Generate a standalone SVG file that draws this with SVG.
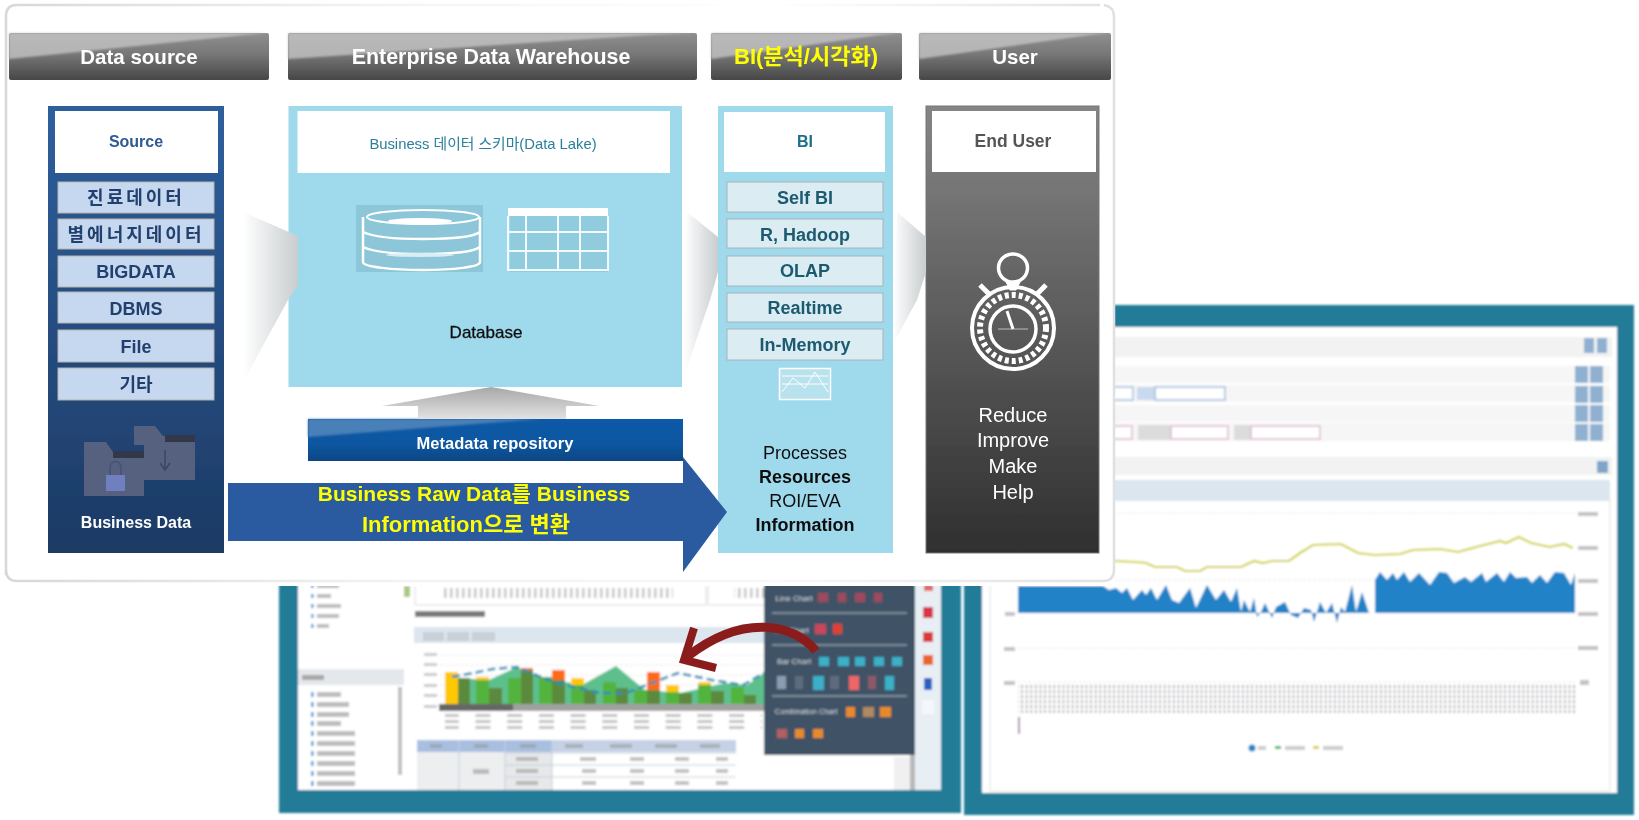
<svg xmlns="http://www.w3.org/2000/svg" width="1639" height="820" viewBox="0 0 1639 820">
<style>
text{font-family:"Liberation Sans","Noto Sans CJK KR",sans-serif;text-anchor:middle}
.hd{fill:url(#hdG)}.gl{fill:#c4c4c4;opacity:.8}
.ht{font-size:20.5px;font-weight:700;fill:#fff}
.si{fill:#c5d8f0;stroke:#b7b3a8;stroke-width:1}
.st{font-size:18px;font-weight:700;fill:#24406e}
.ko{letter-spacing:3px}
.bi{fill:#dbecf3;stroke:#aab4b8;stroke-width:1}
.bt{font-size:18px;font-weight:700;fill:#1d5a70}
.ww{fill:#fff}
.teal{fill:#217c98}
.m{fill:#9a9a9a}
.ic{fill:none;stroke:#fff;stroke-width:2.5}
.btn{fill:#8fb0d0}
.strip{fill:#f6f6f6}
.tr{fill:#3f9ae0}
.trt{fill:#bdbdbd}
.grid{stroke:#e8e8e8;stroke-width:1;stroke-dasharray:3 2}
</style>
<defs>
<linearGradient id="hdG" x1="0" y1="0" x2="0" y2="1"><stop offset="0" stop-color="#8f8f8f"/><stop offset=".45" stop-color="#777"/><stop offset="1" stop-color="#474747"/></linearGradient>
<linearGradient id="srcG" x1="0" y1="0" x2="0" y2="1"><stop offset="0" stop-color="#2f5f9d"/><stop offset="1" stop-color="#1c3a64"/></linearGradient>
<linearGradient id="usrG" x1="0" y1="0" x2="0" y2="1"><stop offset="0" stop-color="#858585"/><stop offset="1" stop-color="#2f2f2f"/></linearGradient>
<linearGradient id="mdG" x1="0" y1="0" x2="0" y2="1"><stop offset="0" stop-color="#0e5aa7"/><stop offset=".6" stop-color="#0d56a0"/><stop offset="1" stop-color="#0a4684"/></linearGradient>
<linearGradient id="grA" x1="0" y1="0" x2="1" y2="0"><stop offset="0" stop-color="#fff"/><stop offset="1" stop-color="#c8cdcf"/></linearGradient>
<linearGradient id="grU" x1="0" y1="0" x2="0" y2="1"><stop offset="0" stop-color="#a8a8a8"/><stop offset="1" stop-color="#e2e2e2"/></linearGradient>
<linearGradient id="edgeT" x1="0" y1="0" x2="1" y2="0"><stop offset="0" stop-color="#d8d8d8"/><stop offset=".35" stop-color="#f4f4f4"/><stop offset=".7" stop-color="#fff"/><stop offset="1" stop-color="#e4e4e4"/></linearGradient>
<linearGradient id="edgeB" x1="0" y1="0" x2="1" y2="0"><stop offset="0" stop-color="#d8d8d8"/><stop offset=".35" stop-color="#f2f2f2"/><stop offset=".7" stop-color="#f8f8f8"/><stop offset="1" stop-color="#e0e0e0"/></linearGradient>
<pattern id="xl" width="4.6" height="5" patternUnits="userSpaceOnUse"><rect width="1.6" height="3.4" fill="#a8a4ac"/></pattern>
<pattern id="xs" width="31.7" height="6" patternUnits="userSpaceOnUse"><rect width="15" height="3" fill="#c4c4c4"/></pattern>
<pattern id="tk" width="6" height="10" patternUnits="userSpaceOnUse"><rect width="2.5" height="10" fill="#c6c6c6"/></pattern>
<filter id="soft" filterUnits="userSpaceOnUse" x="0" y="0" width="1639" height="820"><feGaussianBlur stdDeviation="0.75"/></filter>
<filter id="soft2" filterUnits="userSpaceOnUse" x="0" y="0" width="1639" height="820"><feGaussianBlur stdDeviation="0.9"/></filter>
</defs>
<rect width="1639" height="820" fill="#fff"/>
<g filter="url(#soft)">
<g id="window-right" filter="url(#soft2)">
<rect class="teal" x="964" y="305" width="670" height="510"/>
<rect class="ww" x="982" y="327" width="635" height="466"/>
<rect x="990" y="500" width="620" height="291" fill="none" stroke="#e2e2e2"/>
<rect x="1000" y="337" width="612" height="20" fill="#f2f2f2"/>
<rect class="btn" x="1584" y="338" width="10" height="15"/><rect class="btn" x="1597" y="338" width="10" height="15"/>
<rect class="strip" x="1000" y="366" width="610" height="17"/><rect class="strip" x="1000" y="385" width="610" height="17"/><rect class="strip" x="1000" y="405" width="610" height="17"/><rect class="strip" x="1000" y="423" width="610" height="18"/>
<g class="btn"><rect x="1575" y="366" width="13" height="17"/><rect x="1590" y="366" width="13" height="17"/><rect x="1575" y="386" width="13" height="17"/><rect x="1590" y="386" width="13" height="17"/><rect x="1575" y="405" width="13" height="17"/><rect x="1590" y="405" width="13" height="17"/><rect x="1575" y="424" width="13" height="17"/><rect x="1590" y="424" width="13" height="17"/></g>
<rect x="1100" y="387" width="33" height="13" fill="#fff" stroke="#9dbbe0" stroke-width="1.5"/>
<rect x="1137" y="387" width="18" height="13" fill="#c9d9ee"/><rect x="1155" y="387" width="70" height="13" fill="#fff" stroke="#9dbbe0" stroke-width="1.5"/>
<rect x="1100" y="426" width="32" height="13" fill="#fff" stroke="#dcb8d0" stroke-width="1.5"/>
<rect x="1138" y="425" width="33" height="15" fill="#dcdcdc"/><rect x="1171" y="426" width="57" height="13" fill="#fff" stroke="#dcb8d0" stroke-width="1.5"/>
<rect x="1234" y="425" width="17" height="15" fill="#dcdcdc"/><rect x="1251" y="426" width="69" height="13" fill="#fff" stroke="#dcb8d0" stroke-width="1.5"/>
<rect x="1000" y="457" width="612" height="18" fill="#f2f2f2"/><rect x="1597" y="461" width="11" height="12" fill="#7ea4c8"/>
<rect x="1000" y="480" width="610" height="21" fill="#dce6ee"/>
<g class="grid"><path d="M1018 513H1575M1018 580H1575M1018 648H1575M1018 682H1575"/></g>
<g class="m" opacity=".6"><rect x="1578" y="512" width="20" height="4"/><rect x="1578" y="546" width="20" height="4"/><rect x="1578" y="579" width="20" height="4"/><rect x="1578" y="612" width="20" height="4"/><rect x="1578" y="646" width="20" height="4"/><rect x="1580" y="680" width="9" height="5"/><rect x="1005" y="612" width="10" height="4"/><rect x="1004" y="647" width="11" height="4"/><rect x="1004" y="681" width="11" height="4"/></g>
<path fill="#2282c8" d="M1018 586H1103L1109 590 1116 588 1122 593 1127 588 1133 600 1142 590 1146 595 1151 588 1157 600 1166 585 1172 600 1179 603 1190 588 1196 608 1207 585 1216 600 1224 590 1231 602 1237 588 1241 612 1244 600 1250 612 1254 598 1257 617 1261 612 1265 603 1272 618 1276 607 1285 602 1291 615 1298 618 1304 608 1311 610 1314 622 1320 602 1326 613 1332 603 1337 623 1341 607 1345 612 1352 585 1356 612 1362 592 1369 613H1018Z"/>
<path fill="#2282c8" d="M1375 613V580L1380 572 1387 580 1393 573 1397 580 1404 572 1410 582 1419 573 1430 585 1439 572 1447 573 1454 583 1465 577 1471 582 1482 573 1486 582 1497 573 1504 582 1510 572 1516 578 1527 577 1532 583 1540 575 1547 583 1555 572 1564 573 1571 585 1575 573V613Z"/>
<path fill="none" stroke="#d2d23c" stroke-width="2.200" d="M1114 561L1136 562 1146 563 1155 567 1177 567 1185 571 1200 571 1207 567 1241 567 1254 561 1263 563 1272 561 1289 561 1300 553 1313 545 1341 544 1358 553 1375 555 1400 554 1413 550 1440 549 1458 552 1480 546 1500 541 1506 543 1519 537 1531 543 1550 547 1564 544 1573 548"/>
<rect x="1018" y="685" width="557" height="28" fill="url(#xl)"/>
<rect x="1018" y="717" width="2" height="17" fill="#a98ab0"/>
<circle cx="1252" cy="748" r="3.500" fill="#2282c8"/><rect class="m" opacity=".5" x="1258" y="746" width="8" height="4"/>
<rect x="1275" y="746" width="6" height="3" fill="#2eb872"/><rect class="m" opacity=".5" x="1285" y="746" width="20" height="4"/>
<rect x="1313" y="746" width="6" height="3" fill="#e8c82c"/><rect class="m" opacity=".5" x="1323" y="746" width="20" height="4"/>
</g>
<g id="window-left" filter="url(#soft2)">
<rect class="teal" x="279" y="560" width="682" height="253"/>
<rect class="ww" x="298" y="560" width="643" height="230"/>
<g class="tr"><rect x="311" y="584" width="2.500" height="4"/><rect x="311" y="594" width="2.500" height="4"/><rect x="311" y="604" width="2.500" height="4"/><rect x="311" y="614" width="2.500" height="4"/><rect x="311" y="624" width="2.500" height="4"/>
<rect x="311" y="692" width="2.500" height="5"/><rect x="311" y="702" width="2.500" height="5"/><rect x="311" y="712" width="2.500" height="5"/><rect x="311" y="721" width="2.500" height="5"/><rect x="311" y="731" width="2.500" height="5"/><rect x="311" y="741" width="2.500" height="5"/><rect x="311" y="751" width="2.500" height="5"/><rect x="311" y="761" width="2.500" height="5"/><rect x="311" y="771" width="2.500" height="5"/><rect x="311" y="781" width="2.500" height="5"/></g>
<g class="trt"><rect x="317" y="584" width="22" height="4"/><rect x="317" y="594" width="14" height="4"/><rect x="317" y="604" width="24" height="4"/><rect x="317" y="614" width="22" height="4"/><rect x="317" y="624" width="12" height="4"/>
<rect x="317" y="692" width="24" height="5"/><rect x="317" y="702" width="32" height="5"/><rect x="317" y="712" width="32" height="5"/><rect x="317" y="721" width="24" height="5"/><rect x="317" y="731" width="38" height="5"/><rect x="317" y="741" width="38" height="5"/><rect x="317" y="751" width="38" height="5"/><rect x="317" y="761" width="38" height="5"/><rect x="317" y="771" width="38" height="5"/><rect x="317" y="781" width="38" height="5"/></g>
<rect x="404" y="586" width="6" height="11" fill="#a9c97f"/>
<rect x="298" y="669" width="106" height="16" fill="#e4e8ec"/><rect x="302" y="675" width="22" height="5" fill="#a8a8a8"/>
<rect x="398" y="687" width="4" height="88" fill="#c0c0c0"/>
<path d="M415 586V605H706V586M708 586V605H764" fill="none" stroke="#dcdcdc"/>
<rect x="441" y="588" width="232" height="10" fill="url(#tk)"/><rect x="734" y="588" width="30" height="10" fill="url(#tk)"/>
<rect x="415" y="611" width="70" height="6" fill="#7a7a7a"/>
<rect x="414" y="627" width="350" height="16" fill="#dce6ee"/>
<rect x="423" y="632" width="21" height="9" fill="#c9d0d7"/><rect x="447" y="632" width="22" height="9" fill="#c9d0d7"/><rect x="472" y="632" width="23" height="9" fill="#c9d0d7"/>
<g class="grid"><path d="M440 655H764M440 665H764M440 675H764M440 685H764M440 696H764"/></g>
<g class="m" opacity=".5"><rect x="424" y="653" width="13" height="3"/><rect x="424" y="663" width="13" height="3"/><rect x="424" y="673" width="13" height="3"/><rect x="424" y="684" width="13" height="3"/><rect x="424" y="694" width="13" height="3"/><rect x="424" y="705" width="13" height="3"/></g>
<path fill="#5dc08c" d="M445 704L458 678 489 680 517 667 539 677 582 685 616 666 645 690 680 693 725 683 747 685 764 673V704Z"/>
<g fill="#ffc800"><rect x="445" y="672" width="13" height="32"/><rect x="476" y="677" width="13" height="10"/><rect x="571" y="678" width="13" height="10"/><rect x="666" y="685" width="13" height="10"/><rect x="698" y="682" width="13" height="6"/></g>
<g fill="#ff6a13"><rect x="521" y="668" width="12" height="6"/><rect x="552" y="670" width="13" height="12"/><rect x="647" y="672" width="13" height="20"/></g>
<g fill="#52b43c"><rect x="476" y="680" width="13" height="24"/><rect x="508" y="678" width="13" height="26"/><rect x="539" y="677" width="13" height="27"/><rect x="571" y="685" width="13" height="19"/><rect x="603" y="682" width="13" height="22"/><rect x="634" y="690" width="13" height="14"/><rect x="666" y="692" width="13" height="12"/><rect x="698" y="685" width="13" height="19"/><rect x="731" y="687" width="13" height="17"/></g>
<g fill="#5c8a3c"><rect x="458" y="678" width="12" height="26"/><rect x="489" y="688" width="13" height="16"/><rect x="521" y="670" width="12" height="34"/><rect x="552" y="680" width="13" height="24"/><rect x="584" y="690" width="12" height="14"/><rect x="616" y="688" width="12" height="16"/><rect x="647" y="690" width="13" height="14"/><rect x="679" y="693" width="13" height="11"/><rect x="711" y="691" width="13" height="13"/><rect x="744" y="695" width="12" height="9"/></g>
<path fill="none" stroke="#2b8fb5" stroke-width="2.500" stroke-dasharray="8 4" d="M452 677L493 669 517 667 548 680 574 687 600 693 626 693 652 683 678 673 712 680 743 685 764 673"/>
<rect x="439" y="704" width="325" height="7" fill="#a0a0a0"/><rect x="439" y="704" width="74" height="7" fill="#666"/>
<rect x="445" y="714" width="317" height="16" fill="url(#xs)"/>
<rect x="417" y="740" width="135" height="12" fill="#a9bfe0"/><rect x="552" y="740" width="184" height="12" fill="#c5d2e6"/>
<rect x="417" y="752" width="135" height="38" fill="#eceef0"/><rect x="505" y="752" width="47" height="38" fill="#e6e8ea"/>
<path d="M459 740V790M505 740V790M552 740V790M505 765H736M505 777H736M505 753H736" stroke="#c6d0dc" fill="none"/>
<g class="m" opacity=".6"><rect x="430" y="744" width="12" height="4"/><rect x="474" y="744" width="14" height="4"/><rect x="520" y="744" width="16" height="4"/><rect x="565" y="744" width="18" height="4"/><rect x="610" y="744" width="22" height="4"/><rect x="655" y="744" width="22" height="4"/><rect x="700" y="744" width="20" height="4"/><rect x="473" y="769" width="16" height="5"/><rect x="516" y="757" width="22" height="4"/><rect x="516" y="769" width="22" height="4"/><rect x="516" y="781" width="22" height="4"/><rect x="580" y="757" width="16" height="4"/><rect x="630" y="757" width="14" height="4"/><rect x="675" y="757" width="14" height="4"/><rect x="716" y="757" width="12" height="4"/><rect x="582" y="769" width="14" height="4"/><rect x="630" y="769" width="14" height="4"/><rect x="675" y="769" width="14" height="4"/><rect x="716" y="769" width="12" height="4"/><rect x="582" y="781" width="14" height="4"/><rect x="630" y="781" width="14" height="4"/><rect x="675" y="781" width="14" height="4"/><rect x="716" y="781" width="12" height="4"/></g>
<rect x="894" y="757" width="18" height="33" fill="#f0f0f0"/><rect x="910" y="755" width="5" height="35" fill="#b8b8b8"/>
<rect x="915" y="560" width="26" height="230" fill="#e7eff5"/>
<g id="icon-strip"><rect x="924" y="585" width="9" height="6" fill="#e46a6a"/><path d="M923 607h10v11h-10z" fill="#d8344a"/><path d="M923 632h10v10h-10z" fill="#d93a3a"/><path d="M923 655h10v10h-10z" fill="#e8662a"/><path d="M924 678h8v12h-8z" fill="#2a62c0"/><path d="M922 700h12v14h-12z" fill="#f4f8fb"/></g>
<rect x="764" y="560" width="151" height="195" fill="#3f5266"/>
<path d="M772 613H907M772 645H907M772 696H907" stroke="#7a8a98" stroke-width="2"/>
<g fill="#d8dde2" font-size="8"><text x="794" y="601">Line Chart</text><text x="792" y="633">Pie Chart</text><text x="794" y="664">Bar Chart</text><text x="806" y="714" font-size="7.500">Combination Chart</text></g>
<g fill="#c9475a"><rect x="818" y="593" width="10" height="9" opacity=".7"/><rect x="838" y="593" width="8" height="9" opacity=".7"/><rect x="855" y="593" width="10" height="9" opacity=".7"/><rect x="874" y="593" width="8" height="9" opacity=".7"/><rect x="815" y="624" width="11" height="10"/><rect x="833" y="624" width="9" height="10" fill="#e04030"/></g>
<g fill="#3ab0c8"><rect x="819" y="657" width="10" height="9"/><rect x="838" y="657" width="11" height="9"/><rect x="855" y="657" width="10" height="9"/><rect x="874" y="657" width="10" height="9"/><rect x="892" y="657" width="10" height="9"/><rect x="777" y="676" width="9" height="13" fill="#8c9cb0"/><rect x="795" y="676" width="8" height="13" fill="#5d6c7c"/><rect x="813" y="676" width="11" height="14"/><rect x="830" y="676" width="9" height="13" fill="#5d6c7c"/><rect x="849" y="676" width="10" height="14" fill="#e66"/><rect x="868" y="676" width="8" height="13" fill="#8a5a68"/><rect x="885" y="676" width="9" height="14"/></g>
<g fill="#e88a2a"><rect x="846" y="707" width="9" height="10"/><rect x="863" y="707" width="11" height="10" fill="#b08a60"/><rect x="880" y="707" width="11" height="10"/><rect x="777" y="729" width="10" height="9" fill="#b06060"/><rect x="795" y="729" width="9" height="9"/><rect x="813" y="729" width="10" height="9"/></g>
</g>
<g id="card">
<path d="M0 0H1115V586H0Z" fill="#fff"/>
<path d="M6 575V16Q6 5 17 5H1100" fill="none" stroke="url(#edgeT)" stroke-width="2.500"/>
<path d="M6 570Q6 581 17 581H1103Q1114 581 1114 570V16Q1114 7 1104 5" fill="none" stroke="url(#edgeB)" stroke-width="2.500"/>
</g>
<g id="headers">
<g id="header-data-source"><rect class="hd" x="9" y="33" width="260" height="47" rx="2"/><polygon class="gl" filter="url(#soft2)" points="9,33 269,33 245,35 9,59"/><text class="ht" x="139" y="64">Data source</text></g>
<g id="header-edw"><rect class="hd" x="288" y="33" width="409" height="47" rx="2"/><polygon class="gl" filter="url(#soft2)" points="288,33 697,33 650,35 288,59"/><text class="ht" x="491" y="64" font-size="21.400" style="font-size:21.4px">Enterprise Data Warehouse</text></g>
<g id="header-bi"><rect class="hd" x="711" y="33" width="191" height="47" rx="2"/><polygon class="gl" filter="url(#soft2)" points="711,33 902,33 880,35 711,59"/><text class="ht" x="806" y="64" style="fill:#ff0;font-size:22px">BI(분석/시각화)</text></g>
<g id="header-user"><rect class="hd" x="919" y="33" width="192" height="47" rx="2"/><polygon class="gl" filter="url(#soft2)" points="919,33 1111,33 1090,35 919,59"/><text class="ht" x="1015" y="64">User</text></g>
</g>
<g id="node-source">
<rect x="48" y="106" width="176" height="447" fill="url(#srcG)"/>
<rect class="ww" x="55" y="111" width="163" height="62"/>
<text x="136" y="147" font-size="16" font-weight="700" fill="#2d5a95">Source</text>
<rect class="si" x="58" y="182" width="156" height="31"/><text class="st ko" x="136" y="204">진료데이터</text>
<rect class="si" x="58" y="219" width="156" height="30"/><text class="st ko" x="136" y="241">별에너지데이터</text>
<rect class="si" x="58" y="256" width="156" height="31"/><text class="st" x="136" y="278">BIGDATA</text>
<rect class="si" x="58" y="292" width="156" height="31"/><text class="st" x="136" y="315">DBMS</text>
<rect class="si" x="58" y="330" width="156" height="32"/><text class="st" x="136" y="353">File</text>
<rect class="si" x="58" y="368" width="156" height="32"/><text class="st" x="136" y="391">기타</text>
<path d="M134 426H155L163 436H195V480H144V445H134Z" fill="#56607f"/>
<path d="M84 442H106L113 452H144V496H84Z" fill="#56607f"/>
<rect x="165" y="435" width="30" height="7" fill="#33384a"/><rect x="113" y="451" width="31" height="7" fill="#33384a"/>
<path d="M165 450V470M160 463L165 470 170 463" stroke="#3c4560" stroke-width="1.500" fill="none"/>
<rect x="106" y="475" width="19" height="16" fill="#6f7fc0"/><path d="M110 475V467a5 5 0 0 1 11 0V475" fill="none" stroke="#4a5478" stroke-width="2"/>
<text x="136" y="528" font-size="16" font-weight="700" fill="#fff">Business Data</text>
</g>
<g id="node-edw">
<rect x="288.500" y="106" width="393.500" height="281" fill="#9fd9ec"/>
<rect class="ww" x="297.500" y="111" width="372.500" height="62"/>
<text x="483" y="149" font-size="14.800" fill="#2a7f9b">Business 데이터 스키마(Data Lake)</text>
<rect x="356" y="205" width="127" height="67" fill="#8cc6d8"/>
<g class="ic"><ellipse cx="423" cy="217" rx="56" ry="7" stroke-width="2"/><path d="M363 217V262c0 5 30 8 60 8s57-3 57-8V217"/><path d="M363 232c10 5 30 7 60 7s50-2 57-7M363 247c10 5 30 7 60 7s50-2 57-7"/></g>
<ellipse cx="420" cy="221" rx="32" ry="3" fill="#fff"/><ellipse cx="420" cy="255" rx="34" ry="2" fill="#d8eef4"/>
<rect x="508" y="208" width="100" height="8" fill="#fff"/>
<rect x="510" y="216" width="98" height="56" fill="#8cc6d8" opacity=".7"/>
<path d="M508 216V270H608V216M508 232H608M508 251H608M508 270H608M526 216V270M558 216V270M580 216V270" fill="none" stroke="#f2fafd" stroke-width="2"/>
<text x="486" y="338" font-size="17" fill="#111" stroke="#111" stroke-width=".3">Database</text>
</g>
<g id="node-metadata">
<rect x="308" y="419" width="375" height="42" fill="url(#mdG)"/>
<polygon points="308,419 540,419 308,437" fill="#4a80b8" filter="url(#soft2)"/>
<text x="495" y="449" font-size="16.500" font-weight="700" fill="#fff">Metadata repository</text>
</g>
<g id="node-bi">
<rect x="718" y="106" width="175" height="447" fill="#9fd9ec"/>
<rect class="ww" x="724" y="112" width="161" height="60"/>
<text x="805" y="147" font-size="16" font-weight="700" fill="#1d6f88">BI</text>
<rect class="bi" x="727" y="182" width="156" height="30"/><text class="bt" x="805" y="204">Self BI</text>
<rect class="bi" x="727" y="219" width="156" height="29"/><text class="bt" x="805" y="241">R, Hadoop</text>
<rect class="bi" x="727" y="256" width="156" height="30"/><text class="bt" x="805" y="277">OLAP</text>
<rect class="bi" x="727" y="293" width="156" height="29"/><text class="bt" x="805" y="314">Realtime</text>
<rect class="bi" x="727" y="329" width="156" height="31"/><text class="bt" x="805" y="351">In-Memory</text>
<rect x="779.500" y="368.500" width="51" height="31" fill="#b8e2ee" stroke="#fff" stroke-width="1.500"/>
<path d="M782 392L793 378 805 388 815 372 828 392M782 384H828M782 376H828" fill="none" stroke="#fff"/>
<g font-size="18" fill="#111"><text x="805" y="459">Processes</text><text x="805" y="483" font-weight="700">Resources</text><text x="805" y="507">ROI/EVA</text><text x="805" y="531" font-weight="700">Information</text></g>
</g>
<g id="node-user">
<rect x="926" y="106" width="173" height="447" fill="url(#usrG)" stroke="#777"/>
<rect class="ww" x="932" y="111" width="164" height="61"/>
<text x="1013" y="147" font-size="17.500" fill="#555" font-weight="700">End User</text>
<g fill="none" stroke="#fff"><ellipse cx="1013" cy="268" rx="14.500" ry="14" stroke-width="3.500"/><path d="M1006 282H1020L1016 290H1010Z" fill="#fff" stroke-width="1"/><circle cx="1013" cy="328" r="41" stroke-width="4"/><circle cx="1013" cy="328" r="33" stroke-width="6" stroke-dasharray="4 3"/><circle cx="1013" cy="329" r="23" stroke-width="3.500"/><path d="M1013 329L1007 311" stroke-width="3"/><path d="M998 329H1028" stroke-width="1" opacity=".6"/><path d="M980 285L990 295M1046 285L1036 295" stroke-width="5"/></g>
<g font-size="20" fill="#fff"><text x="1013" y="422">Reduce</text><text x="1013" y="447">Improve</text><text x="1013" y="473">Make</text><text x="1013" y="499">Help</text></g>
</g>
<g id="connectors">
<polygon fill="url(#grA)" points="243,212 298,236 298,285 288,300 243,382"/>
<polygon fill="url(#grA)" points="687,212 718,237 718,272 710,300 684,376"/>
<polygon fill="url(#grA)" points="897,212 926,237 926,272 917,300 893,344"/>
<polygon points="491,387 599,406 566,406 566,419 418,419 418,406 382,406" fill="url(#grU)"/>
<polygon points="228,483 683,483 683,457 727,512 683,572 683,541 228,541" fill="#2a5aa0"/>
<path d="M816 651C795 625 745 612 688 656" fill="none" stroke="#8b1f1f" stroke-width="9"/>
<path d="M694 628L684 660 716 668" fill="none" stroke="#8b1f1f" stroke-width="8"/>
<g font-weight="700" fill="#ff0"><text x="474" y="501" font-size="21">Business Raw Data를 Business</text><text x="466" y="532" font-size="22">Information으로 변환</text></g>
</g>
</g>
</svg>
